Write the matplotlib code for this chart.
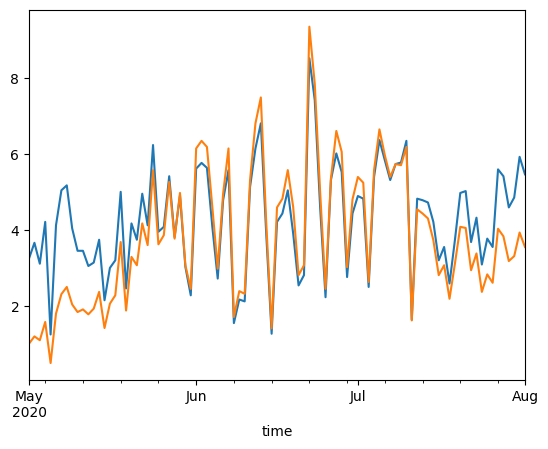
import matplotlib
matplotlib.use("Agg")
import matplotlib.pyplot as plt
import pandas as pd

start = "2020-05-01"
n_days = 93

series_a = [3.26, 3.67, 3.12, 4.22, 1.26, 4.13, 5.05, 5.18, 4.05, 3.46,
            3.46, 3.06, 3.15, 3.75, 2.16, 3.01, 3.21, 5.01, 2.47, 4.18,
            3.75, 4.96, 4.13, 6.24, 3.96, 4.09, 5.42, 3.82, 4.92, 3.04,
            2.29, 5.62, 5.77, 5.64, 4.09, 2.73, 4.79, 5.58, 1.56, 2.18,
            2.13, 5.14, 6.15, 6.81, 3.90, 1.28, 4.22, 4.44, 5.05, 3.91,
            2.55, 2.82, 8.52, 7.42, 4.60, 2.24, 5.32, 6.02, 5.53, 2.77,
            4.44, 4.90, 4.83, 2.51, 5.40, 6.37, 5.84, 5.32, 5.74, 5.78,
            6.35, 1.65, 4.83, 4.79, 4.73, 4.22, 3.21, 3.56, 2.60, 3.74,
            4.98, 5.03, 3.69, 4.33, 3.10, 3.78, 3.56, 5.60, 5.42, 4.60,
            4.86, 5.93, 5.47]

series_b = [1.02, 1.21, 1.11, 1.59, 0.51, 1.81, 2.32, 2.51, 2.05, 1.85,
            1.92, 1.79, 1.94, 2.38, 1.43, 2.07, 2.29, 3.69, 1.89, 3.30,
            3.08, 4.18, 3.61, 5.58, 3.63, 3.87, 5.27, 3.78, 4.98, 3.08,
            2.46, 6.15, 6.35, 6.19, 4.61, 2.99, 4.96, 6.15, 1.72, 2.40,
            2.33, 5.32, 6.81, 7.49, 4.20, 1.42, 4.60, 4.83, 5.58, 4.61,
            2.82, 3.08, 9.35, 7.85, 5.00, 2.46, 5.36, 6.61, 6.06, 3.03,
            4.81, 5.40, 5.25, 2.64, 5.58, 6.65, 5.97, 5.40, 5.74, 5.71,
            6.19, 1.63, 4.55, 4.44, 4.31, 3.74, 2.82, 3.08, 2.20, 3.12,
            4.09, 4.06, 2.95, 3.39, 2.38, 2.84, 2.62, 4.04, 3.84, 3.19,
            3.32, 3.94, 3.56]

idx = pd.date_range(start, periods=n_days, freq="D", name="time")
df = pd.DataFrame({"a": series_a, "b": series_b}, index=idx)

fig, ax = plt.subplots(figsize=(5.48, 4.49), dpi=100)
fig.subplots_adjust(left=0.053, right=0.958, top=0.978, bottom=0.154)
df.plot(ax=ax, legend=False)

fig.savefig("out.png", dpi=100)
